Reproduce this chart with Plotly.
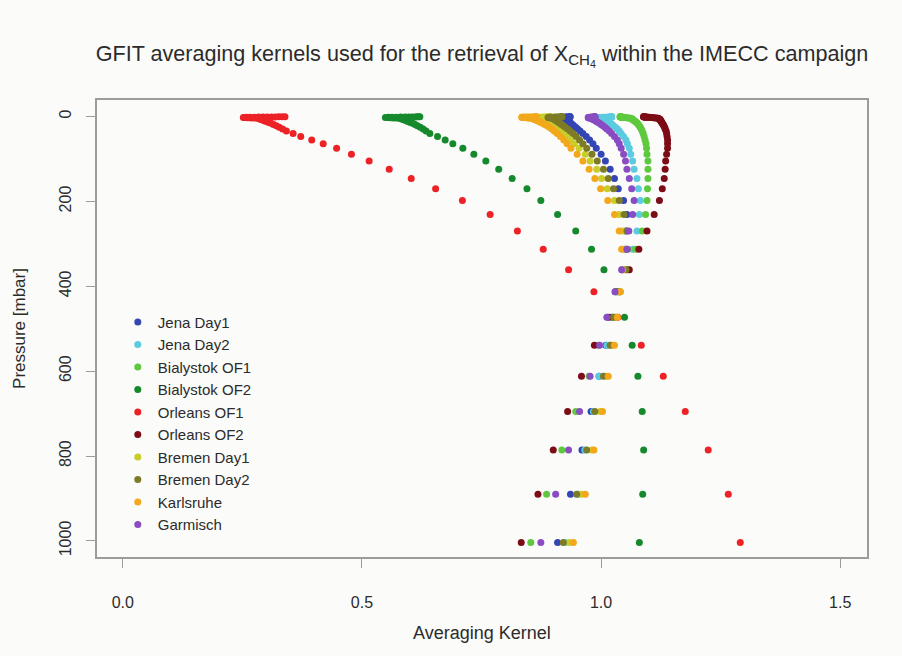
import plotly.graph_objects as go

# Pressure levels of the retrieval grid [mbar], surface first
pressure = [1004, 890, 786, 695, 612, 539, 473, 413, 361, 313, 270, 231, 198, 170,
            146, 124, 105, 89, 75, 64, 55, 47, 40, 34, 29.5, 25.3, 21.7, 18.6, 16.0,
            13.8, 11.9, 10.2, 8.8, 7.6, 6.6, 5.7, 4.9, 4.3, 3.7, 3.3, 2.9, 2.5, 2.2,
            1.9, 1.7, 1.5, 1.3, 1.15, 1.0, 0.9, 0.8, 0.7, 0.6, 0.5]

# Column averaging kernels, one value per pressure level
jena_day1 = [0.909, 0.936, 0.960, 0.979, 0.996, 1.010, 1.022, 1.032, 1.044, 1.050,
             1.052, 1.054, 1.047, 1.036, 1.028, 1.019, 1.009, 1.000, 0.990,
             0.983, 0.976, 0.969, 0.962, 0.956, 0.951, 0.947, 0.943, 0.940, 0.937,
             0.935, 0.933, 0.931, 0.929, 0.928, 0.927, 0.926, 0.925, 0.923, 0.921,
             0.919, 0.917, 0.915, 0.914, 0.916, 0.919, 0.922, 0.925, 0.928, 0.930,
             0.932, 0.934, 0.935, 0.935, 0.935]
jena_day2 = [0.925, 0.952, 0.966, 0.984, 0.995, 1.012, 1.030, 1.040, 1.052, 1.066,
             1.075, 1.080, 1.082, 1.078, 1.075, 1.069, 1.066, 1.062, 1.059,
             1.055, 1.052, 1.047, 1.042, 1.038, 1.034, 1.030, 1.026, 1.023, 1.020,
             1.017, 1.015, 1.012, 1.010, 1.008, 1.006, 1.004, 1.002, 1.000, 0.997,
             0.995, 0.994, 0.996, 0.999, 1.003, 1.007, 1.011, 1.015, 1.018, 1.020,
             1.021, 1.022, 1.022, 1.022, 1.022]
bialystok_of1 = [0.853, 0.886, 0.918, 0.947, 0.975, 0.995, 1.026, 1.040, 1.055, 1.072,
                 1.086, 1.093, 1.096, 1.097, 1.098, 1.098, 1.098, 1.096, 1.095,
                 1.094, 1.092, 1.090, 1.088, 1.086, 1.084, 1.082, 1.080, 1.078, 1.076,
                 1.074, 1.072, 1.070, 1.068, 1.067, 1.066, 1.065, 1.064, 1.062, 1.059,
                 1.056, 1.053, 1.050, 1.048, 1.046, 1.045, 1.044, 1.043, 1.042, 1.041,
                 1.041, 1.040, 1.040, 1.040, 1.040]
bialystok_of2 = [1.080, 1.087, 1.089, 1.086, 1.077, 1.065, 1.049, 1.030, 1.006, 0.980,
                 0.947, 0.909, 0.874, 0.845, 0.814, 0.786, 0.759, 0.734, 0.711,
                 0.690, 0.674, 0.658, 0.642, 0.634, 0.628, 0.622, 0.616, 0.611, 0.606,
                 0.601, 0.597, 0.594, 0.591, 0.588, 0.586, 0.584, 0.582, 0.578, 0.572,
                 0.566, 0.560, 0.554, 0.549, 0.555, 0.563, 0.572, 0.581, 0.590, 0.598,
                 0.605, 0.611, 0.615, 0.618, 0.621]
orleans_of1 = [1.291, 1.266, 1.224, 1.176, 1.130, 1.084, 1.035, 0.985, 0.932, 0.879,
               0.825, 0.768, 0.710, 0.654, 0.603, 0.557, 0.515, 0.478, 0.447,
               0.419, 0.395, 0.372, 0.356, 0.342, 0.334, 0.327, 0.321, 0.315, 0.310,
               0.305, 0.301, 0.297, 0.294, 0.291, 0.289, 0.287, 0.285, 0.281, 0.275,
               0.268, 0.261, 0.255, 0.252, 0.258, 0.266, 0.275, 0.284, 0.293, 0.302,
               0.311, 0.319, 0.326, 0.333, 0.339]
orleans_of2 = [0.833, 0.868, 0.900, 0.930, 0.959, 0.986, 1.015, 1.038, 1.059, 1.079,
               1.096, 1.111, 1.122, 1.128, 1.132, 1.134, 1.135, 1.137, 1.139,
               1.139, 1.139, 1.138, 1.137, 1.136, 1.134, 1.133, 1.131, 1.130, 1.128,
               1.127, 1.126, 1.125, 1.124, 1.124, 1.123, 1.122, 1.121, 1.119, 1.116,
               1.113, 1.110, 1.107, 1.104, 1.101, 1.098, 1.096, 1.094, 1.093, 1.092,
               1.091, 1.090, 1.089, 1.089, 1.089]
bremen_day1 = [0.934, 0.959, 0.981, 0.998, 1.010, 1.022, 1.030, 1.040, 1.045, 1.048,
               1.045, 1.038, 1.028, 1.013, 1.001, 0.991, 0.977, 0.967, 0.954,
               0.944, 0.936, 0.928, 0.920, 0.913, 0.907, 0.901, 0.896, 0.892, 0.888,
               0.885, 0.882, 0.880, 0.878, 0.876, 0.875, 0.874, 0.873, 0.871, 0.869,
               0.867, 0.866, 0.865, 0.866, 0.869, 0.872, 0.876, 0.880, 0.884, 0.887,
               0.890, 0.892, 0.893, 0.893, 0.893]
bremen_day2 = [0.921, 0.949, 0.970, 0.987, 1.005, 1.019, 1.026, 1.035, 1.052, 1.055,
               1.054, 1.048, 1.038, 1.026, 1.015, 1.005, 0.992, 0.981, 0.970,
               0.962, 0.955, 0.948, 0.941, 0.935, 0.930, 0.925, 0.921, 0.917, 0.914,
               0.911, 0.909, 0.907, 0.905, 0.903, 0.902, 0.901, 0.900, 0.898, 0.896,
               0.894, 0.892, 0.890, 0.889, 0.892, 0.896, 0.900, 0.904, 0.908, 0.911,
               0.914, 0.916, 0.917, 0.918, 0.918]
karlsruhe = [0.942, 0.967, 0.985, 1.003, 1.015, 1.028, 1.034, 1.040, 1.045, 1.043,
             1.038, 1.028, 1.014, 0.999, 0.987, 0.975, 0.962, 0.950, 0.937,
             0.929, 0.922, 0.915, 0.908, 0.902, 0.897, 0.892, 0.887, 0.882, 0.878,
             0.874, 0.871, 0.868, 0.865, 0.863, 0.861, 0.859, 0.857, 0.854, 0.851,
             0.848, 0.845, 0.841, 0.838, 0.835, 0.834, 0.836, 0.840, 0.845, 0.850,
             0.855, 0.859, 0.862, 0.864, 0.865]
garmisch = [0.874, 0.905, 0.932, 0.955, 0.977, 0.997, 1.012, 1.029, 1.043, 1.054,
            1.058, 1.066, 1.069, 1.064, 1.059, 1.054, 1.051, 1.047, 1.042,
            1.038, 1.034, 1.028, 1.022, 1.017, 1.012, 1.008, 1.004, 1.000, 0.997,
            0.994, 0.991, 0.989, 0.987, 0.985, 0.983, 0.982, 0.981, 0.979, 0.977,
            0.975, 0.974, 0.973, 0.974, 0.976, 0.978, 0.980, 0.982, 0.984, 0.985,
            0.986, 0.987, 0.987, 0.987, 0.987]

series_names = ["Jena Day1", "Jena Day2", "Bialystok OF1", "Bialystok OF2",
                "Orleans OF1", "Orleans OF2", "Bremen Day1", "Bremen Day2",
                "Karlsruhe", "Garmisch"]
series_values = [jena_day1, jena_day2, bialystok_of1, bialystok_of2, orleans_of1,
                 orleans_of2, bremen_day1, bremen_day2, karlsruhe, garmisch]
series_colors = ["#3446b4", "#5ccbe0", "#5ec93e", "#16892c", "#ec2227",
                 "#7c0c16", "#c9cd28", "#7d7b26", "#f3a81b", "#8a4cc2"]

x_ticks = [0.0, 0.5, 1.0, 1.5]
x_tick_labels = ["0.0", "0.5", "1.0", "1.5"]
y_ticks = [0, 200, 400, 600, 800, 1000]
y_tick_labels = ["0", "200", "400", "600", "800", "1000"]

FONT = "Liberation Sans, Arial, Helvetica, sans-serif"
TEXT = "#2b2b2b"
FRAME = "#9c9c9c"
BG = "#fbfbf9"

fig = go.Figure()
for name, vals, col in zip(series_names, series_values, series_colors):
    if len(vals) != len(pressure):
        raise ValueError(f"{name}: {len(vals)} values for {len(pressure)} levels")
    fig.add_trace(go.Scatter(
        x=vals, y=pressure, mode="markers", name=name,
        marker=dict(color=col, size=7, line=dict(width=0)),
    ))

fig.update_layout(
    width=902, height=656,
    margin=dict(l=97, r=35, t=100, b=99),
    paper_bgcolor=BG, plot_bgcolor=BG,
    font=dict(family=FONT, color=TEXT, size=16),
    title=dict(
        text="GFIT averaging kernels used for the retrieval of X<sub>CH<sub>4</sub></sub> within the IMECC campaign",
        x=0.5, xref="paper", xanchor="center",
        y=1 - 53 / 656, yref="container", yanchor="middle",
        font=dict(family=FONT, size=21.6, color=TEXT),
    ),
    showlegend=True,
    legend=dict(
        x=0.027, xanchor="left", y=0.55, yanchor="top",
        bgcolor="rgba(0,0,0,0)", borderwidth=0,
        font=dict(family=FONT, size=15, color=TEXT),
        itemsizing="trace",
    ),
    xaxis=dict(
        range=[-0.054, 1.556], tickvals=x_ticks, ticktext=x_tick_labels,
        ticks="outside", ticklen=9, tickcolor=FRAME, tickwidth=1.2,
        showline=True, mirror=True, linecolor=FRAME, linewidth=1.5,
        showgrid=False, zeroline=False,
        ticklabelstandoff=21,
        tickfont=dict(size=16),
        title=dict(text="Averaging Kernel", font=dict(size=18), standoff=16),
    ),
    yaxis=dict(
        range=[1038, -39], tickvals=y_ticks, ticktext=y_tick_labels,
        tickangle=-90,
        ticks="outside", ticklen=9, tickcolor=FRAME, tickwidth=1.2,
        showline=True, mirror=True, linecolor=FRAME, linewidth=1.5,
        showgrid=False, zeroline=False,
        ticklabelstandoff=9,
        tickfont=dict(size=16),
        title=dict(text="Pressure [mbar]", font=dict(size=17), standoff=27),
    ),
)

fig.write_html("out.html")
